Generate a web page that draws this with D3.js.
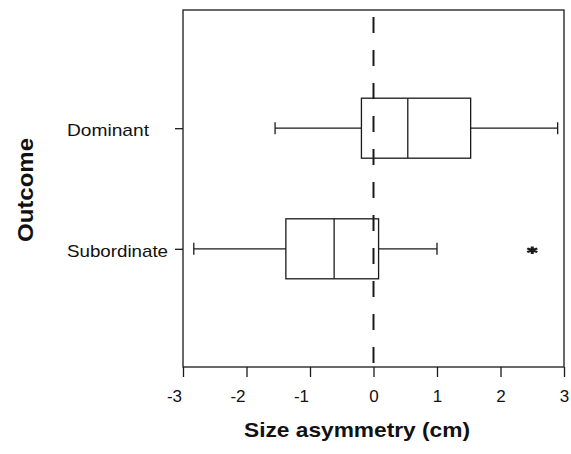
<!DOCTYPE html>
<html><head><meta charset="utf-8">
<script src="https://cdn.jsdelivr.net/npm/d3@7"></script>
<style>body{margin:0;background:#fff}svg{display:block}text{font-family:"Liberation Sans",Arial,Helvetica,sans-serif;fill:#111}</style>
</head><body>
<script>
const categories = ["Dominant", "Subordinate"];
const whiskerLow = [-1.55, -2.83];
const q1 = [-0.19, -1.38];
const median = [0.54, -0.62];
const q3 = [1.53, 0.08];
const whiskerHigh = [2.9, 1.0];
const outliers = [[], [2.5]];
const xTicks = [-3, -2, -1, 0, 1, 2, 3];

const W = 571, H = 454;
const m = {left: 184, right: 7, top: 10, bottom: 87};
const svg = d3.select("body").append("svg").attr("width", W).attr("height", H);
const x = d3.scaleLinear().domain([-3, 3]).range([m.left - 1, W - m.right]);
const y = d3.scalePoint().domain(categories).range([m.top, H - m.bottom]).padding(0.98);
const ink = "#1a1a1a";

// frame
svg.append("rect").attr("x", x(-3)).attr("y", m.top).attr("width", x(3) - x(-3)).attr("height", (H - m.bottom) - m.top)
  .attr("fill", "none").attr("stroke", ink).attr("stroke-width", 1.3);

// x axis
const xa = svg.append("g").attr("transform", `translate(0,${H - m.bottom})`)
  .call(d3.axisBottom(x).tickValues(xTicks).tickSize(10).tickPadding(13).tickFormat(d3.format("d")));
xa.select(".domain").remove();
xa.selectAll("line").attr("stroke", ink).attr("stroke-width", 1.3);
xa.selectAll("text").attr("font-size", 17).attr("fill", ink)
  .attr("dx", d => d < 0 ? -9 : 0)
  .text(d => d < 0 ? "-" + Math.abs(d) : d);

// y axis
const ya = svg.append("g").attr("transform", `translate(${x(-3)},0)`)
  .call(d3.axisLeft(y).tickSize(8).tickPadding(0));
ya.select(".domain").remove();
ya.selectAll("line").attr("stroke", ink).attr("stroke-width", 1.3);
ya.selectAll("text").attr("font-size", 17).attr("fill", ink).attr("text-anchor", "start")
  .attr("x", 67 - x(-3)).attr("dy", 7.5)
  .attr("textLength", d => d === "Dominant" ? 82 : 101).attr("lengthAdjust", "spacingAndGlyphs");

// dashed zero line
svg.append("line").attr("x1", x(0)).attr("x2", x(0)).attr("y1", 17).attr("y2", H - m.bottom)
  .attr("stroke", ink).attr("stroke-width", 2).attr("stroke-dasharray", "16,17");

// boxes
const boxH = 60, capH = 12;
categories.forEach((c, i) => {
  const cy = y(c);
  const g = svg.append("g").attr("stroke", ink).attr("stroke-width", 1.3).attr("fill", "none");
  g.append("line").attr("x1", x(whiskerLow[i])).attr("x2", x(q1[i])).attr("y1", cy).attr("y2", cy);
  g.append("line").attr("x1", x(q3[i])).attr("x2", x(whiskerHigh[i])).attr("y1", cy).attr("y2", cy);
  [whiskerLow[i], whiskerHigh[i]].forEach(v =>
    g.append("line").attr("x1", x(v)).attr("x2", x(v)).attr("y1", cy - capH / 2).attr("y2", cy + capH / 2));
  g.append("rect").attr("x", x(q1[i])).attr("y", cy - boxH / 2).attr("width", x(q3[i]) - x(q1[i])).attr("height", boxH)
    .attr("fill", "none");
  g.append("line").attr("x1", x(median[i])).attr("x2", x(median[i])).attr("y1", cy - boxH / 2).attr("y2", cy + boxH / 2);
  outliers[i].forEach(v =>
    svg.append("path").attr("d", d3.symbol(d3.symbolAsterisk, 60)())
      .attr("transform", `translate(${x(v)},${cy + 1.5}) scale(1.25,0.8)`).attr("stroke", ink).attr("stroke-width", 2.4).attr("fill", "none"));
});

// axis titles
svg.append("text").attr("x", 357).attr("y", 437).attr("text-anchor", "middle")
  .attr("font-size", 21).attr("font-weight", "bold").attr("textLength", 226).attr("lengthAdjust", "spacingAndGlyphs")
  .text("Size asymmetry (cm)");
svg.append("text").attr("transform", "translate(33,190) rotate(-90)").attr("text-anchor", "middle")
  .attr("font-size", 22).attr("font-weight", "bold").attr("textLength", 104).attr("lengthAdjust", "spacingAndGlyphs").text("Outcome");
</script>
</body></html>
